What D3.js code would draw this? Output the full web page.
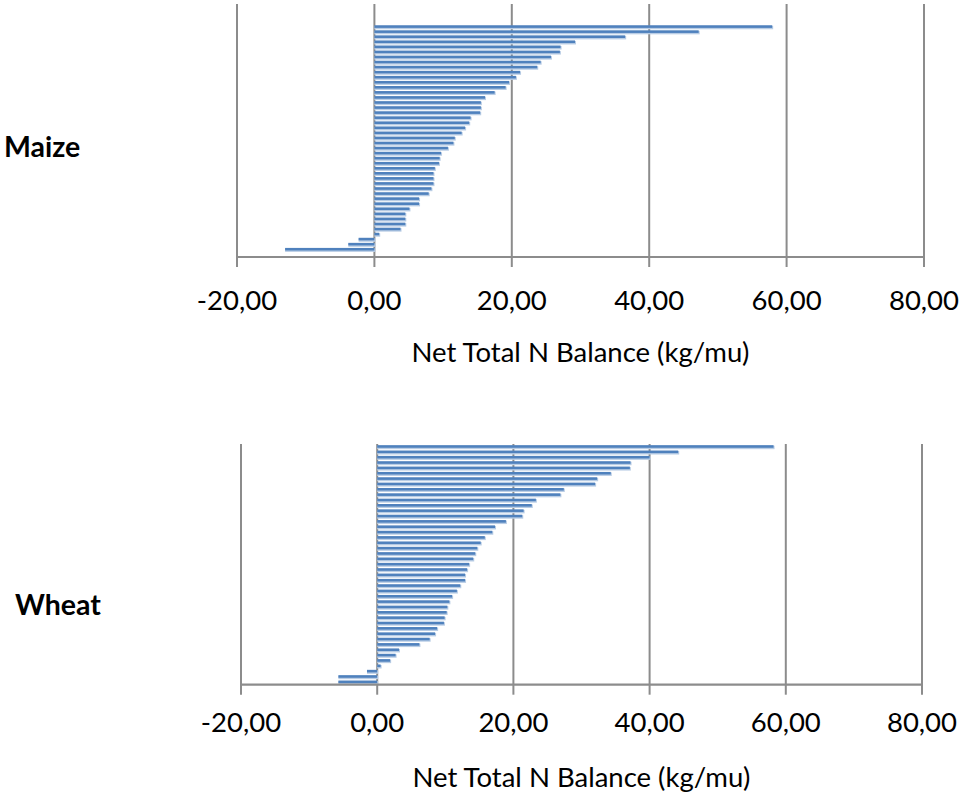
<!DOCTYPE html>
<html>
<head>
<meta charset="utf-8">
<script src="https://cdn.jsdelivr.net/npm/d3@7"></script>
<style>
  body { margin: 0; background: #fff; }
  svg { display: block; font-family: Lato, "Open Sans", sans-serif; }
</style>
</head>
<body>
<div id="chart"></div>
<script>
// values read top to bottom as drawn; null = empty category slot
const maizeValues = [null, null, null, null,
  57.9, 47.2, 36.5, 29.2, 27.1, 27.0, 25.7, 24.2, 23.7, 21.2,
  20.6, 19.6, 19.1, 17.5, 16.1, 15.5, 15.5, 15.4, 14.0, 13.8,
  13.2, 12.7, 11.7, 11.5, 10.7, 9.7, 9.5, 9.4, 8.8, 8.6,
  8.6, 8.6, 8.3, 7.9, 6.5, 6.5, 5.1, 4.5, 4.5, 4.5,
  3.8, 0.7, -2.3, -3.8, -13.0,
  null];

const wheatValues = [
  58.2, 44.2, 40.0, 37.2, 37.1, 34.3, 32.3, 32.0, 27.4, 26.9,
  23.3, 22.7, 21.5, 21.3, 18.9, 17.3, 16.9, 15.8, 15.2, 14.7,
  14.4, 14.1, 13.5, 13.2, 12.9, 12.9, 12.2, 11.7, 11.0, 10.6,
  10.3, 10.2, 9.9, 9.8, 8.8, 8.5, 7.7, 6.2, 3.2, 2.7,
  1.9, 0.5, -1.5, -5.7, -5.7];

const xTicks = [-20, 0, 20, 40, 60, 80];
const axisTitle = "Net Total N Balance (kg/mu)";

const locale = d3.formatLocale({decimal: ",", thousands: ".", grouping: [3], currency: ["", ""], minus: "-"});
const fmt = locale.format(".2f");

const width = 961, height = 802;
const svg = d3.select("#chart").append("svg")
  .attr("width", width)
  .attr("height", height);

function drawPanel(p) {
  let x = d3.scaleLinear()
    .domain([-20, 80])
    .range([p.left, p.right]);

  let y = d3.scaleBand()
    .domain(d3.range(p.values.length))
    .range([p.top, p.bottom]);

  let g = svg.append("g");

  // gridlines + tick marks below axis
  g.selectAll(".grid")
    .data(xTicks)
    .enter().append("line")
    .attr("x1", d => x(d)).attr("x2", d => x(d))
    .attr("y1", p.top).attr("y2", p.bottom + 10)
    .attr("stroke", "#8c8c8c")
    .attr("stroke-width", 2);

  let bars = p.values.map((v, i) => ({i: i, v: v})).filter(d => d.v !== null);

  // light edge under each bar
  g.selectAll(".shade")
    .data(bars)
    .enter().append("rect")
    .attr("x", d => x(Math.min(0, d.v)))
    .attr("y", d => y(d.i) + y.bandwidth() / 2 - 1)
    .attr("width", d => Math.abs(x(d.v) - x(0)) + 1)
    .attr("height", 3.5)
    .attr("fill", "#b9cde5");

  g.selectAll(".bar")
    .data(bars)
    .enter().append("rect")
    .attr("x", d => x(Math.min(0, d.v)))
    .attr("y", d => y(d.i) + y.bandwidth() / 2 - 1.5)
    .attr("width", d => Math.abs(x(d.v) - x(0)))
    .attr("height", 2.6)
    .attr("fill", "#4f81bd");

  // axis line
  g.append("line")
    .attr("x1", p.left - 1).attr("x2", p.right + 1)
    .attr("y1", p.bottom).attr("y2", p.bottom)
    .attr("stroke", "#8c8c8c")
    .attr("stroke-width", 2.2);

  g.selectAll(".tick")
    .data(xTicks)
    .enter().append("text")
    .attr("x", d => x(d))
    .attr("y", p.tickY)
    .attr("text-anchor", "middle")
    .attr("font-size", 27.5)
    .attr("fill", "#000")
    .text(d => fmt(d));

  g.append("text")
    .attr("x", (p.left + p.right) / 2)
    .attr("y", p.titleY)
    .attr("text-anchor", "middle")
    .attr("font-size", 27.5)
    .attr("fill", "#000")
    .text(axisTitle);

  g.append("text")
    .attr("x", p.labelX)
    .attr("y", p.labelY)
    .attr("font-size", 28.5)
    .attr("font-weight", "bold")
    .attr("fill", "#000")
    .text(p.label);
}

drawPanel({label: "Maize", values: maizeValues, left: 237, right: 924, top: 4, bottom: 257,
  tickY: 310, titleY: 362, labelX: 4, labelY: 157});
drawPanel({label: "Wheat", values: wheatValues, left: 241, right: 922, top: 444, bottom: 684.7,
  tickY: 732, titleY: 787, labelX: 15, labelY: 615});
</script>
</body>
</html>
